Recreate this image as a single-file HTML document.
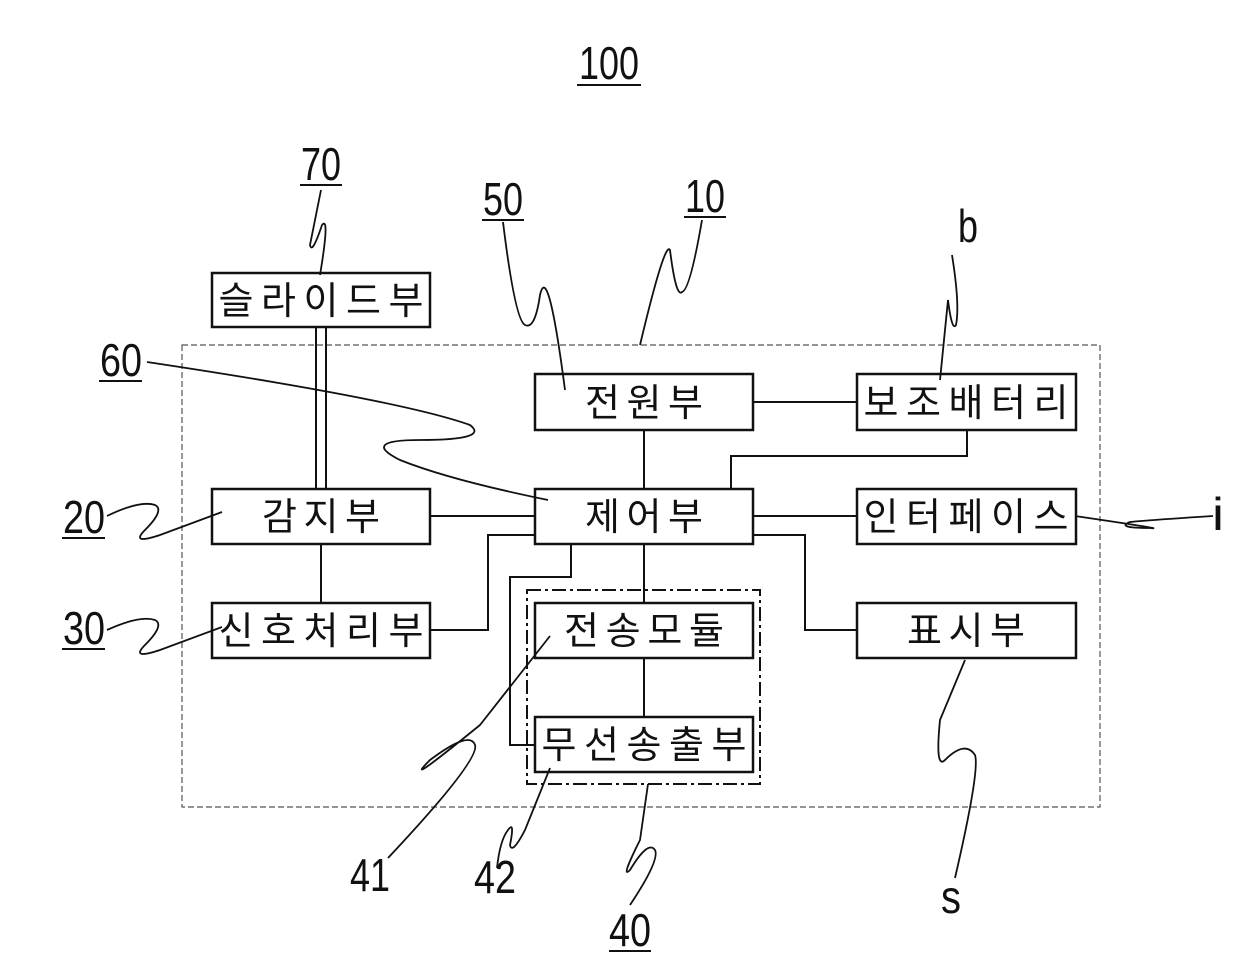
<!DOCTYPE html>
<html><head><meta charset="utf-8"><style>
html,body{margin:0;padding:0;background:#fff}
svg{display:block}
.k{font-family:"Liberation Sans","Noto Sans CJK KR",sans-serif;font-size:38px;fill:#111}
.n{font-family:"Liberation Sans",sans-serif;font-size:46px;fill:#111}
</style></head><body>
<svg width="1240" height="977" viewBox="0 0 1240 977" xmlns="http://www.w3.org/2000/svg">
<g fill="none" stroke="#111" stroke-width="2.5">
<rect x="182" y="345" width="918" height="462" stroke-width="1.2" stroke-dasharray="6,3" stroke="#555"/>
<rect x="527" y="590" width="233" height="194" stroke-width="2" stroke-dasharray="14,4,3,4"/>
<rect x="212" y="273" width="218" height="54"/>
<rect x="212" y="489" width="218" height="55"/>
<rect x="212" y="603" width="218" height="55"/>
<rect x="535" y="374" width="218" height="56"/>
<rect x="535" y="489" width="218" height="55"/>
<rect x="535" y="603" width="218" height="55"/>
<rect x="535" y="717" width="218" height="55"/>
<rect x="857" y="374" width="219" height="56"/>
<rect x="857" y="489" width="219" height="55"/>
<rect x="857" y="603" width="219" height="55"/>
</g>
<g fill="none" stroke="#111" stroke-width="2">
<line x1="316" y1="327" x2="316" y2="489"/>
<line x1="326" y1="327" x2="326" y2="489"/>
<line x1="321" y1="544" x2="321" y2="603"/>
<line x1="753" y1="402" x2="857" y2="402"/>
<polyline points="967,430 967,456 731,456 731,489"/>
<line x1="430" y1="516" x2="535" y2="516"/>
<line x1="753" y1="516" x2="857" y2="516"/>
<polyline points="753,535 805,535 805,630 857,630"/>
<polyline points="430,630 488,630 488,535 535,535"/>
<polyline points="571,544 571,577 510,577 510,745 535,745"/>
<line x1="644" y1="430" x2="644" y2="489"/>
<line x1="644" y1="544" x2="644" y2="603"/>
<line x1="644" y1="658" x2="644" y2="717"/>
</g>
<g fill="none" stroke="#111" stroke-width="1.8">
<path d="M321,190 L310,245 Q312,255 322,225 Q330,215 320,275"/>
<path d="M503,222 Q515,320 525,325 Q535,330 540,295 Q548,260 565,390"/>
<path d="M702,220 Q690,290 682,292 Q676,298 670,250 Q665,240 640,345"/>
<path d="M952,255 Q960,305 956,325 Q952,332 948,300 L940,380"/>
<path d="M147,362 Q400,400 470,425 Q490,440 420,440 Q360,440 400,460 Q450,480 548,500"/>
<path d="M107,516 Q140,500 155,505 Q165,510 145,530 Q130,545 160,535 L222,512"/>
<path d="M107,630 Q140,615 155,620 Q165,625 145,645 Q130,660 160,650 L222,627"/>
<path d="M1213,516 Q1150,520 1130,522 Q1115,528 1150,528 Q1170,530 1075,516"/>
<path d="M388,858 Q480,760 475,745 Q470,730 430,760 Q400,790 480,725 L550,636"/>
<path d="M497,868 Q500,840 508,830 Q515,820 510,845 Q512,855 525,830 L550,768"/>
<path d="M630,905 Q660,860 655,850 Q648,840 630,870 Q620,880 640,840 L648,784"/>
<path d="M955,878 Q980,770 975,755 Q965,740 945,760 Q935,770 940,720 L965,660"/>
</g>
<g class="k" text-anchor="middle">
<text x="321" y="314" textLength="205">슬라이드부</text>
<text x="321" y="530" textLength="118">감지부</text>
<text x="321" y="644" textLength="205">신호처리부</text>
<text x="644" y="416" textLength="118">전원부</text>
<text x="644" y="530" textLength="118">제어부</text>
<text x="644" y="644" textLength="160">전송모듈</text>
<text x="644" y="758" textLength="205">무선송출부</text>
<text x="966" y="416" textLength="205">보조배터리</text>
<text x="966" y="530" textLength="205">인터페이스</text>
<text x="966" y="644" textLength="118">표시부</text>
</g>
<g class="n" text-anchor="middle">
<text x="609" y="79" textLength="60" lengthAdjust="spacingAndGlyphs">100</text>
<text x="321" y="180" textLength="40" lengthAdjust="spacingAndGlyphs">70</text>
<text x="503" y="215" textLength="40" lengthAdjust="spacingAndGlyphs">50</text>
<text x="705" y="212" textLength="40" lengthAdjust="spacingAndGlyphs">10</text>
<text x="968" y="242" textLength="20" lengthAdjust="spacingAndGlyphs">b</text>
<text x="121" y="376" textLength="42" lengthAdjust="spacingAndGlyphs">60</text>
<text x="84" y="533" textLength="42" lengthAdjust="spacingAndGlyphs">20</text>
<text x="84" y="644" textLength="42" lengthAdjust="spacingAndGlyphs">30</text>
<text x="1218" y="530" textLength="12" lengthAdjust="spacingAndGlyphs">i</text>
<text x="370" y="891" textLength="40" lengthAdjust="spacingAndGlyphs">41</text>
<text x="495" y="893" textLength="42" lengthAdjust="spacingAndGlyphs">42</text>
<text x="630" y="946" textLength="42" lengthAdjust="spacingAndGlyphs">40</text>
<text x="951" y="913" textLength="20" lengthAdjust="spacingAndGlyphs">s</text>
</g>
<g stroke="#111" stroke-width="2">
<line x1="577" y1="85" x2="641" y2="85"/>
<line x1="300" y1="185" x2="342" y2="185"/>
<line x1="482" y1="220" x2="524" y2="220"/>
<line x1="684" y1="217" x2="726" y2="217"/>
<line x1="99" y1="381" x2="142" y2="381"/>
<line x1="62" y1="538" x2="105" y2="538"/>
<line x1="62" y1="649" x2="105" y2="649"/>
<line x1="609" y1="951" x2="651" y2="951"/>
</g>
</svg>
</body></html>
